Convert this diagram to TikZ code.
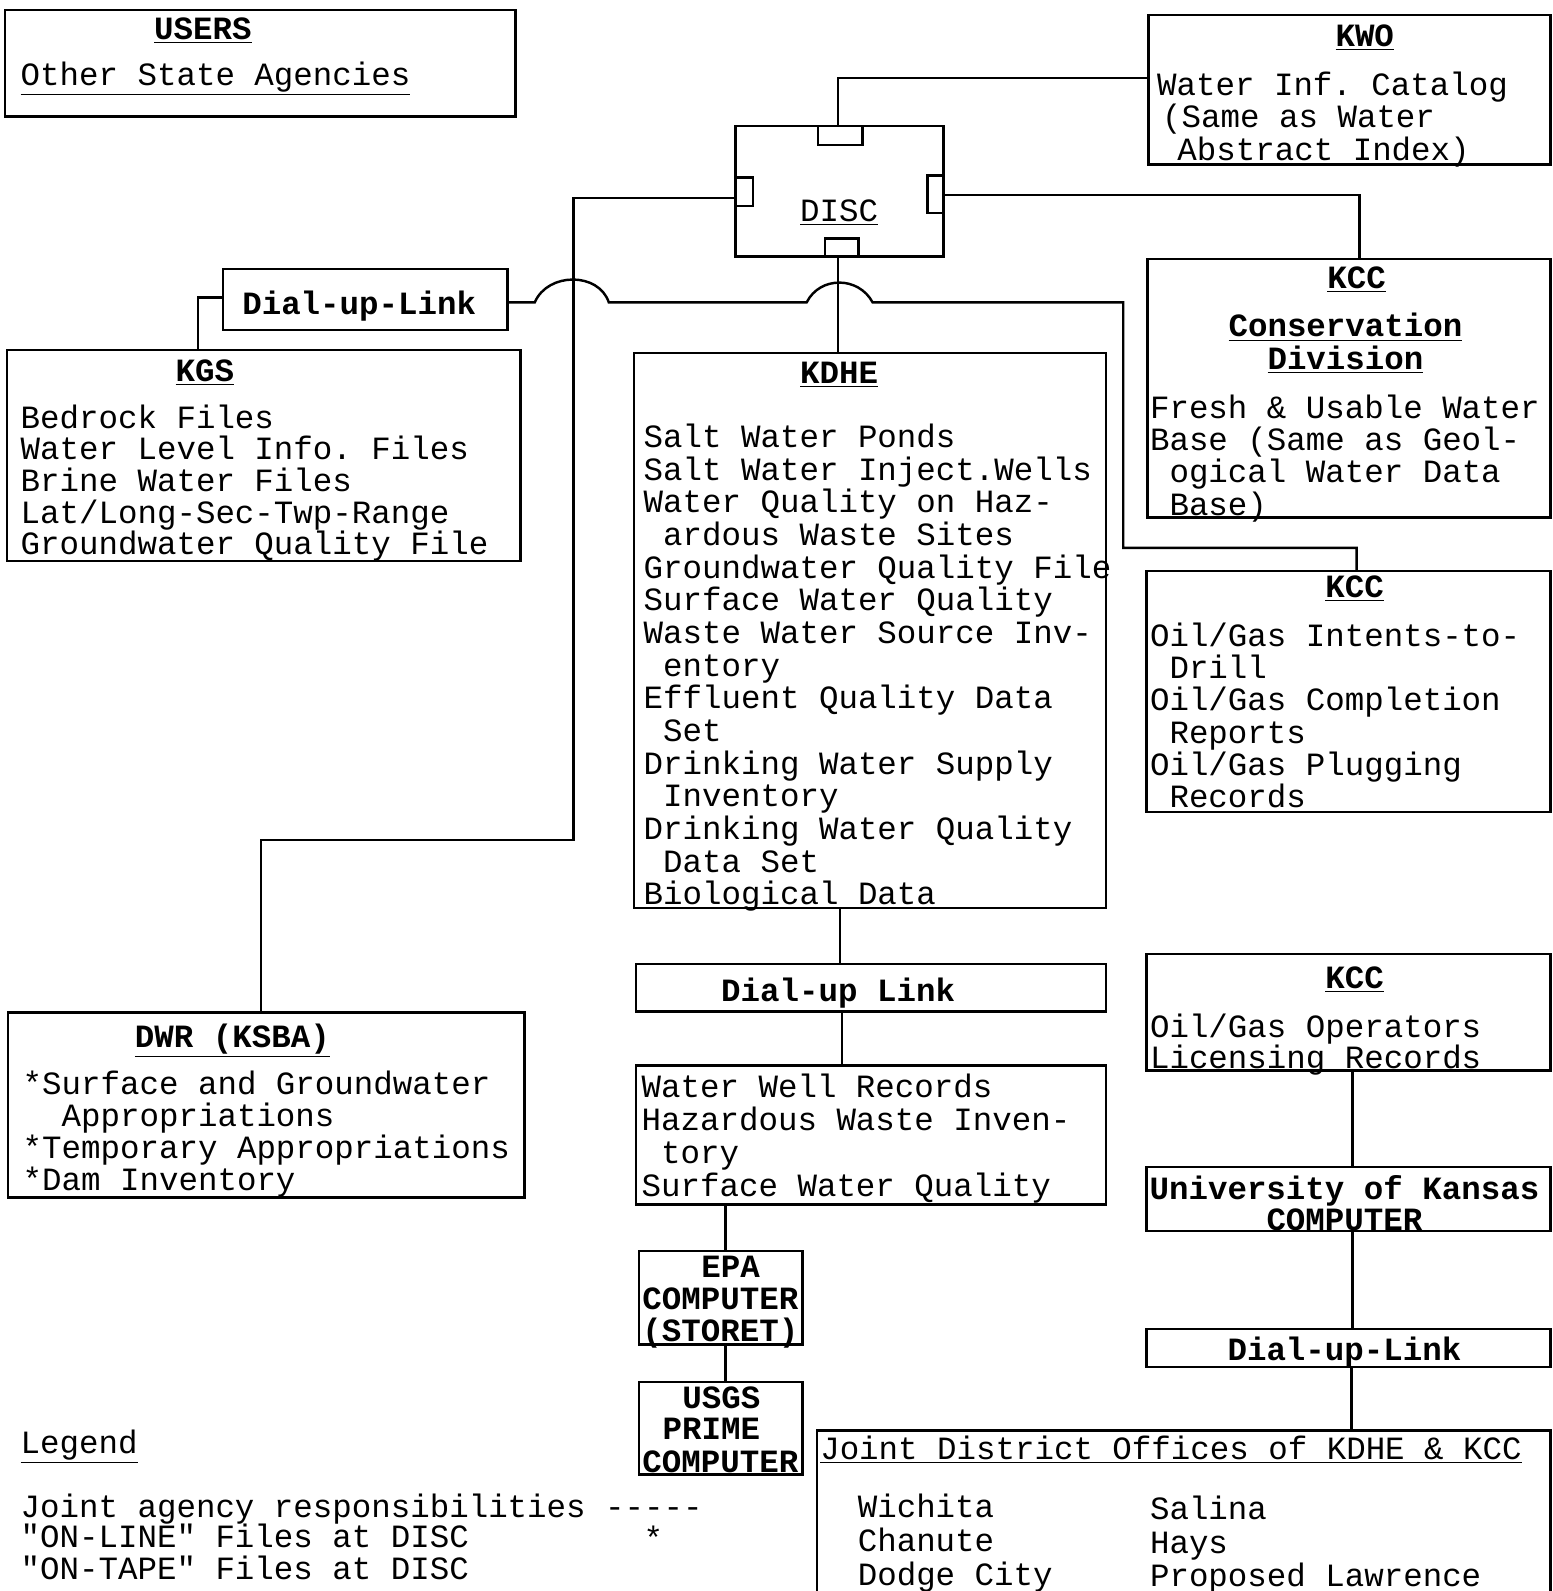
\documentclass[tikz,border=0pt]{standalone}
\usepackage{fontspec}
\newfontfamily\tw{Liberation Mono}
\usetikzlibrary{fit}
\frenchspacing

\tikzset{
  box/.style={draw, line width=1.2pt, inner sep=0pt},
  txt/.style={anchor=base west, inner sep=0pt, yshift=-1pt, font=\tw\fontsize{16}{16}\selectfont},
  hd/.style={anchor=base, inner sep=0pt, yshift=-1pt, font=\tw\bfseries\fontsize{16}{16}\selectfont},
  wire/.style={line width=1.2pt}
}
\newcommand{\ul}[1]{\underline{#1}}

\begin{document}
\begin{tikzpicture}[x=0.5pt,y=-0.5pt]
\useasboundingbox (0,0) rectangle (1530,1568);

% boxes
\node[box, fit={(5,10) (508,115)}] (users) {};
\node[box, fit={(1132,15) (1528,162)}] (kwo) {};
\node[box, fit={(725,124) (930,253)}] (disc) {};
\node[box, fit={(1131,255) (1528,510)}] (kcca) {};
\node[box, fit={(220,265) (500,325)}] (dialA) {};
\node[box, fit={(7,345) (513,553)}] (kgs) {};
\node[box, fit={(625,348) (1090,895)}] (kdhe) {};
\node[box, fit={(1130,563) (1528,800)}] (kccb) {};
\node[box, fit={(627,950) (1090,997)}] (dialB) {};
\node[box, fit={(627,1050) (1090,1187)}] (wells) {};
\node[box, fit={(630,1233) (791,1325)}] (epa) {};
\node[box, fit={(630,1362) (791,1453)}] (usgs) {};
\node[box, fit={(8,998) (517,1180)}] (dwr) {};
\node[box, fit={(1130,940) (1528,1055)}] (kccc) {};
\node[box, fit={(1130,1150) (1528,1213)}] (ukc) {};
\node[box, fit={(1130,1310) (1528,1347)}] (dialC) {};
\node[box, fit={(805,1410) (1528,1620)}] (joint) {};

% DISC ports
\draw[wire] (806,124) rectangle (850,143);
\draw[wire] (725,175) rectangle (742,203);
\draw[wire] (914,173) rectangle (930,210);
\draw[wire] (813,235) rectangle (846,253);

% connectors
\draw[wire] (disc.north -| 826,0) |- (kwo.west |- 0,77);
\draw[wire] (disc.east |- 0,192) -| (kcca.north -| 1340,0);
\draw[wire] (disc.west |- 0,195) -- (565,195) -- (565,828) -| (dwr.north -| 257,0);
\draw[wire] (disc.south -| 826,0) -- (kdhe.north -| 826,0);
\draw[wire] (dialA.east |- 0,298) -- (527,298)
   .. controls (540,268) and (590,268) .. (600,298) -- (795,298)
   .. controls (808,272) and (846,272) .. (860,298) -- (1107,298)
   -- (1107,540) -| (kccb.north -| 1337,0);
\draw[wire] (dialA.west |- 0,293) -| (kgs.north -| 195,0);
\draw[wire] (kdhe.south -| 828,0) -- (dialB.north -| 828,0);
\draw[wire] (dialB.south -| 830,0) -- (wells.north -| 830,0);
\draw[wire] (wells.south -| 715,0) -- (epa.north -| 715,0);
\draw[wire] (epa.south -| 715,0) -- (usgs.north -| 715,0);
\draw[wire] (kccc.south -| 1333,0) -- (ukc.north -| 1333,0);
\draw[wire] (ukc.south -| 1333,0) -- (dialC.north -| 1333,0);
\draw[wire] (dialC.south -| 1332,0) -- (joint.north -| 1332,0);

% USERS
\node[hd] (usersT) at (200,37) {\ul{USERS}};
\node[txt] (usersA) at (20,82) {\ul{Other State Agencies}};

% KWO
\node[hd] (kwoT) at (1345,44) {\ul{KWO}};
\node[txt] (kwo1) at (1140,92) {Water Inf. Catalog};
\node[txt] (kwo2) at (1145,124) {(Same as Water};
\node[txt] (kwo3) at (1160,156) {Abstract Index)};

% DISC
\node[txt, anchor=base] (discT) at (827,216) {\ul{DISC}};

% KCC conservation
\node[hd] (kccaT) at (1337,282) {\ul{KCC}};
\node[hd] (kccaC) at (1326,330) {\ul{Conservation}};
\node[hd] (kccaD) at (1326,362) {\ul{Division}};
\foreach \t [count=\i from 0] in {Fresh \& Usable Water, Base (Same as Geol-, \ ogical Water Data, \ Base)}
  \node[txt] (kcca-\i) at (1133,410+32*\i) {\t};

% dial-up links
\node[hd] (dialAT) at (354,308) {Dial-up-Link};
\node[hd] (dialBT) at (826,985) {Dial-up Link};
\node[hd] (dialCT) at (1325,1339) {Dial-up-Link};

% KGS
\node[hd] (kgsT) at (202,374) {\ul{KGS}};
\foreach \t [count=\i from 0] in {Bedrock Files, Water Level Info. Files, Brine Water Files, Lat/Long-Sec-Twp-Range, Groundwater Quality File}
  \node[txt] (kgs-\i) at (20,420+31.2*\i) {\t};

% KDHE
\node[hd] (kdheT) at (827,376) {\ul{KDHE}};
\foreach \t [count=\i from 0] in {Salt Water Ponds, Salt Water Inject.Wells, Water Quality on Haz-, \ ardous Waste Sites, Groundwater Quality File, Surface Water Quality, Waste Water Source Inv-, \ entory, Effluent Quality Data, \ Set, Drinking Water Supply, \ Inventory, Drinking Water Quality, \ Data Set, Biological Data}
  \node[txt] (kdhe-\i) at (634,439+32.2*\i) {\t};

% KCC drilling
\node[hd] (kccbT) at (1335,587) {\ul{KCC}};
\foreach \t [count=\i from 0] in {Oil/Gas Intents-to-, \ Drill, Oil/Gas Completion, \ Reports, Oil/Gas Plugging, \ Records}
  \node[txt] (kccb-\i) at (1133,635+31.8*\i) {\t};

% well records
\foreach \t [count=\i from 0] in {Water Well Records, Hazardous Waste Inven-, \ tory, Surface Water Quality}
  \node[txt] (wells-\i) at (632,1080+32.3*\i) {\t};

% EPA, USGS
\node[hd] (epa1) at (720,1257) {EPA};
\node[hd] (epa2) at (710,1289) {COMPUTER};
\node[hd] (epa3) at (710,1320) {(STORET)};
\node[hd] (usgs1) at (711,1386) {USGS};
\node[hd] (usgs2) at (701,1417) {PRIME};
\node[hd] (usgs3) at (710,1449) {COMPUTER};

% DWR
\node[hd] (dwrT) at (229,1030) {\ul{DWR (KSBA)}};
\foreach \t [count=\i from 0] in {*Surface and Groundwater, \ \ Appropriations, *Temporary Appropriations, *Dam Inventory}
  \node[txt] (dwr-\i) at (22,1077+31.3*\i) {\t};

% KCC licensing
\node[hd] (kcccT) at (1335,972) {\ul{KCC}};
\node[txt] (kccc1) at (1133,1020) {Oil/Gas Operators};
\node[txt] (kccc2) at (1133,1051) {Licensing Records};

% University of Kansas
\node[hd] (ukc1) at (1325,1180) {University of Kansas};
\node[hd] (ukc2) at (1325,1211) {COMPUTER};

% joint offices
\node[txt] (jointT) at (808,1436) {\ul{Joint District Offices of KDHE \& KCC}};
\foreach \t [count=\i from 0] in {Wichita, Chanute, Dodge City}
  \node[txt] (jointL-\i) at (845,1494+33.5*\i) {\t};
\foreach \t [count=\i from 0] in {Salina, Hays, Proposed Lawrence}
  \node[txt] (jointR-\i) at (1133,1496+33*\i) {\t};

% legend
\node[txt] (legT) at (20,1430) {\ul{Legend}};
\node[txt] (leg1) at (20,1494) {Joint agency responsibilities -----};
\node[txt] (leg2) at (20,1523) {"ON-LINE" Files at DISC};
\node[txt] (leg2s) at (634,1525) {*};
\node[txt] (leg3) at (20,1555) {"ON-TAPE" Files at DISC};
\end{tikzpicture}
\end{document}
